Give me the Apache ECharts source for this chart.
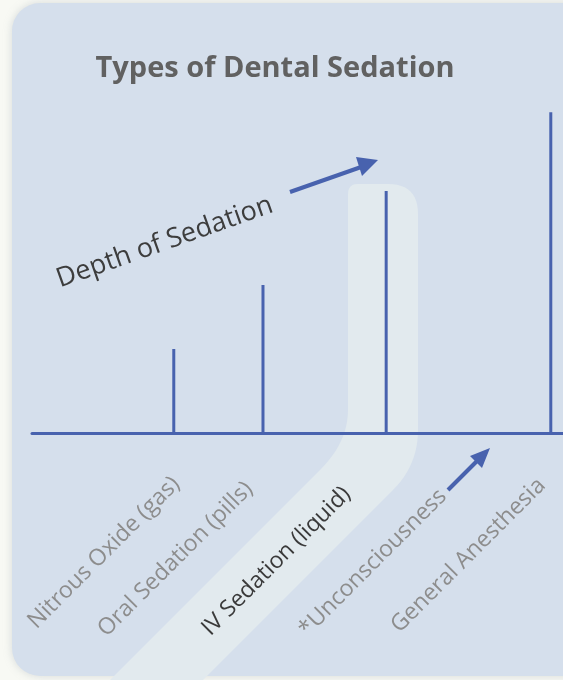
<!DOCTYPE html>
<html>
<head>
<meta charset="utf-8">
<script src="https://cdn.jsdelivr.net/npm/echarts@6/dist/echarts.min.js"></script>
<style>
html,body{margin:0;padding:0;background:#f8f9f4;}
#chart{width:563px;height:680px;}
</style>
</head>
<body>
<div id="chart"></div>
<script>
// ---- data ----
var title = 'Types of Dental Sedation';
var categories = ['Nitrous Oxide (gas)', 'Oral Sedation (pills)', 'IV Sedation (liquid)', '*Unconsciousness', 'General Anesthesia'];
// position of each level along the depth-of-sedation axis (0-100)
var depthPosition = [26.7, 43.5, 66.7, null, 97.7];
// height of each line (sedation depth, 0-100)
var depthValue = [21, 37, 60.5, null, 80.2];
var axisTitle = 'Depth of Sedation';
var highlighted = 'IV Sedation (liquid)';

// ---- layout (pixels) ----
var labelAnchors = [[40, 633], [110, 641], [214, 640], [311, 641], [403, 637]];
var barColor = '#4862ae';

var chart = echarts.init(document.getElementById('chart'), null, {renderer: 'canvas'});

var barData = [];
for (var i = 0; i < categories.length; i++) {
  if (depthPosition[i] != null && depthValue[i] != null) {
    barData.push([depthPosition[i], depthValue[i]]);
  }
}

// highlight band outline (decoration)
function quad(pts, p0, c, p1, n) {
  for (var k = 1; k <= n; k++) {
    var t = k / n, a = (1 - t) * (1 - t), b = 2 * (1 - t) * t, d = t * t;
    pts.push([a * p0[0] + b * c[0] + d * p1[0], a * p0[1] + b * c[1] + d * p1[1]]);
  }
}
var band = [[348, 194]];
quad(band, [348, 194], [348, 184], [358, 184], 6);
band.push([388, 184]);
quad(band, [388, 184], [418, 184], [418, 214], 12);
band.push([418, 430]);
quad(band, [418, 430], [418, 465], [393, 490], 12);
band.push([193, 690]);
band.push([100, 690]);
band.push([320, 470]);
quad(band, [320, 470], [348, 442], [348, 410], 12);

var graphics = [
  {
    type: 'rect', z: -10, silent: true,
    shape: {x: 12, y: 3, width: 600, height: 673, r: 28},
    style: {fill: '#d5dfec', shadowBlur: 8, shadowColor: 'rgba(150,160,170,0.35)'}
  },
  {
    type: 'polygon', z: -9, silent: true,
    shape: {points: band},
    style: {fill: '#e2eaee'}
  },
  // Depth of Sedation label + arrow
  {
    type: 'text', x: 62, y: 293, rotation: 19.5 * Math.PI / 180,
    style: {text: axisTitle, fill: '#3d3d3d', fontSize: 27, fontFamily: 'Open Sans', align: 'left', verticalAlign: 'bottom'}
  },
  {
    type: 'line', shape: {x1: 290, y1: 192, x2: 364, y2: 166},
    style: {stroke: barColor, lineWidth: 4}
  },
  {
    type: 'polygon', shape: {points: [[378, 160], [356, 157], [362, 176]]},
    style: {fill: barColor}
  },
  // Unconsciousness arrow
  {
    type: 'line', shape: {x1: 448, y1: 490, x2: 479, y2: 459},
    style: {stroke: barColor, lineWidth: 4}
  },
  {
    type: 'polygon', shape: {points: [[490, 448], [470, 456], [482, 468]]},
    style: {fill: barColor}
  }
];

for (var j = 0; j < categories.length; j++) {
  graphics.push({
    type: 'text', x: labelAnchors[j][0], y: labelAnchors[j][1], rotation: Math.PI / 4,
    style: {
      text: categories[j],
      fill: categories[j] === highlighted ? '#3a3a3a' : '#8d8d8d',
      fontSize: 23, fontFamily: 'Open Sans', align: 'left', verticalAlign: 'bottom'
    }
  });
}

chart.setOption({
  backgroundColor: '#f8f9f4',
  animation: false,
  title: {
    text: title, left: 270, top: 49, textAlign: 'center',
    textStyle: {fontFamily: 'Open Sans', fontWeight: 'bold', fontSize: 29, color: '#616161'}
  },
  grid: {left: 32, right: 0, top: 33, bottom: 247, containLabel: false},
  xAxis: {
    type: 'value', min: 0, max: 100,
    axisLine: {show: true, lineStyle: {color: barColor, width: 3}},
    axisTick: {show: false}, axisLabel: {show: false}, splitLine: {show: false}
  },
  yAxis: {
    type: 'value', min: 0, max: 100, show: false, splitLine: {show: false}
  },
  series: [{
    type: 'bar', data: barData, barWidth: 3,
    itemStyle: {color: barColor}, silent: true
  }],
  graphic: graphics
});
</script>
</body>
</html>
